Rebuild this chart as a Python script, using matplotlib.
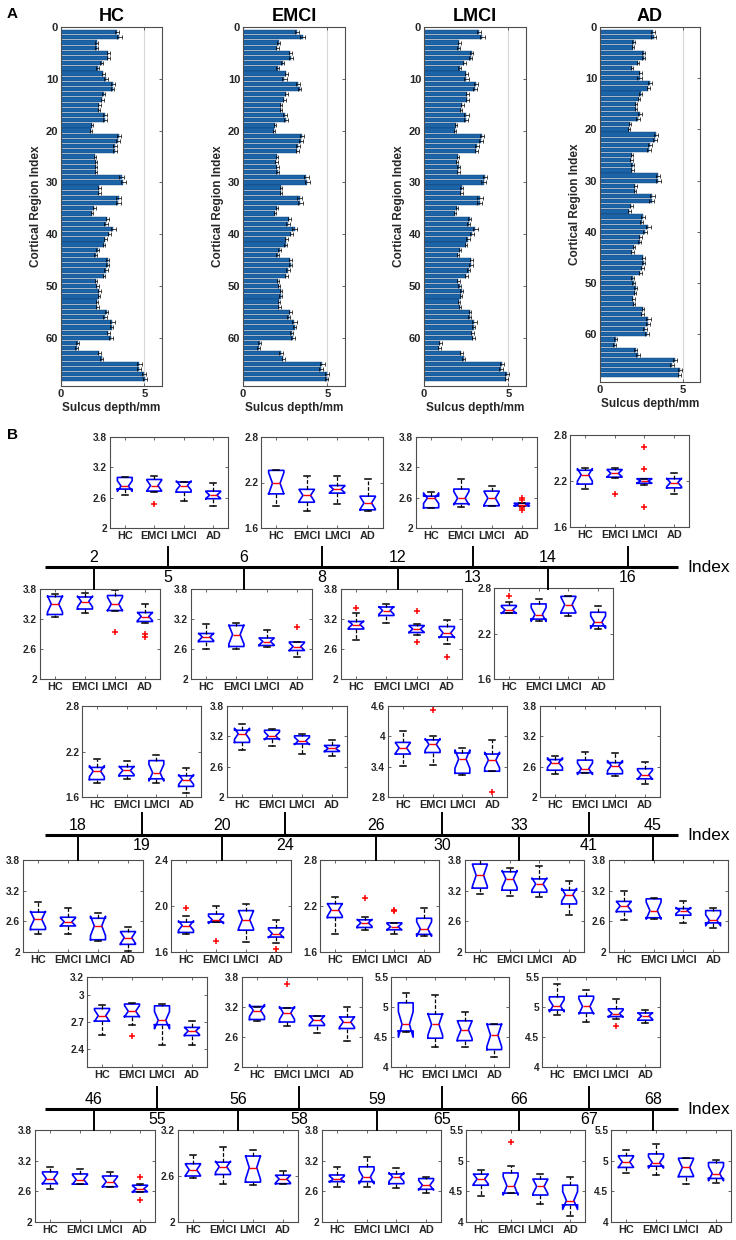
import numpy as np
import matplotlib
matplotlib.use('Agg')
import matplotlib.pyplot as plt

plt.rcParams['font.family'] = ['Liberation Sans', 'DejaVu Sans']

"""
Data
"""
groups = ['HC', 'EMCI', 'LMCI', 'AD']
region_idx = np.arange(1, 69)

# mean sulcus depth (mm) for cortical regions 1..68
depth_hc = [3.34, 3.50, 2.14, 2.14, 2.84, 2.84, 2.44, 2.20, 2.54, 2.70,
            3.10, 3.10, 2.56, 2.48, 2.30, 2.26, 2.64, 2.64, 1.88, 1.80,
            3.50, 3.44, 3.24, 3.24, 2.04, 2.10, 2.10, 2.10, 3.64, 3.74,
            2.30, 2.30, 3.46, 3.44, 2.00, 1.84, 2.78, 2.70, 3.14, 2.90,
            2.66, 2.58, 2.20, 2.08, 2.80, 2.80, 2.70, 2.58, 2.10, 2.18,
            2.30, 2.28, 2.14, 2.18, 2.74, 2.64, 3.08, 3.04, 2.84, 3.00,
            1.00, 0.94, 2.30, 2.44, 4.70, 4.70, 5.00, 5.04]
depth_emci = [3.22, 3.53, 2.12, 2.04, 2.80, 2.84, 2.36, 2.06, 2.58, 2.46,
              3.28, 3.36, 2.56, 2.45, 2.26, 2.24, 2.50, 2.57, 1.90, 1.86,
              3.52, 3.42, 3.28, 3.22, 2.02, 1.98, 2.04, 2.06, 3.76, 3.82,
              2.26, 2.26, 3.36, 3.40, 2.02, 1.90, 2.74, 2.66, 3.06, 2.86,
              2.58, 2.54, 2.18, 2.06, 2.80, 2.82, 2.68, 2.56, 2.08, 2.14,
              2.26, 2.24, 2.12, 2.16, 2.80, 2.70, 3.04, 3.06, 2.88, 2.96,
              0.98, 0.92, 2.26, 2.40, 4.70, 4.62, 5.00, 4.96]
depth_lmci = [3.26, 3.46, 2.10, 2.06, 2.82, 2.76, 2.40, 2.12, 2.52, 2.52,
              3.08, 3.02, 2.58, 2.56, 2.28, 2.20, 2.52, 2.50, 1.92, 1.86,
              3.46, 3.40, 3.16, 3.10, 2.00, 1.94, 2.06, 2.04, 3.62, 3.54,
              2.24, 2.22, 3.32, 3.30, 1.96, 1.84, 2.70, 2.64, 3.04, 2.84,
              2.62, 2.50, 2.14, 2.02, 2.80, 2.78, 2.64, 2.52, 2.04, 2.12,
              2.24, 2.20, 2.08, 2.12, 2.72, 2.70, 2.98, 2.94, 2.86, 2.92,
              0.96, 0.90, 2.22, 2.36, 4.62, 4.58, 4.90, 4.88]
depth_ad = [3.20, 3.25, 2.04, 2.00, 2.65, 2.65, 2.30, 1.93, 2.44, 2.40,
            3.00, 2.92, 2.46, 2.35, 2.16, 2.18, 2.40, 2.28, 1.83, 1.76,
            3.40, 3.30, 3.04, 2.96, 1.92, 1.90, 1.98, 1.96, 3.50, 3.53,
            2.14, 2.12, 3.16, 3.12, 1.90, 1.78, 2.60, 2.52, 2.92, 2.72,
            2.44, 2.40, 2.06, 1.96, 2.62, 2.65, 2.56, 2.44, 1.98, 2.04,
            2.16, 2.12, 2.02, 2.06, 2.60, 2.56, 2.92, 2.90, 2.72, 2.84,
            0.94, 0.88, 2.16, 2.30, 4.53, 4.35, 4.85, 4.79]
depth_sem = [0.12, 0.14, 0.08, 0.08, 0.10, 0.10, 0.08, 0.08, 0.10, 0.14,
             0.12, 0.10, 0.08, 0.08, 0.07, 0.07, 0.12, 0.12, 0.06, 0.06,
             0.12, 0.12, 0.12, 0.10, 0.07, 0.07, 0.08, 0.08, 0.14, 0.16,
             0.08, 0.08, 0.16, 0.16, 0.07, 0.07, 0.10, 0.10, 0.14, 0.10,
             0.10, 0.08, 0.08, 0.08, 0.10, 0.10, 0.10, 0.08, 0.08, 0.08,
             0.08, 0.08, 0.07, 0.07, 0.08, 0.10, 0.14, 0.10, 0.10, 0.10,
             0.08, 0.08, 0.10, 0.10, 0.14, 0.12, 0.12, 0.10]

# box stats per region: (whisker low, q1, median, q3, whisker high) for HC, EMCI, LMCI, AD
box_stats = {
    5: [(2.65, 2.77, 2.83, 3.00, 3.00), (2.71, 2.73, 2.84, 2.96, 3.03), (2.53, 2.71, 2.84, 2.91, 2.91), (2.43, 2.58, 2.65, 2.73, 2.90)],
    8: [(1.89, 2.05, 2.19, 2.36, 2.36), (1.83, 1.94, 2.03, 2.11, 2.28), (1.92, 2.06, 2.11, 2.16, 2.29), (1.83, 1.84, 1.93, 2.02, 2.24)],
    13: [(2.40, 2.40, 2.59, 2.63, 2.71), (2.41, 2.48, 2.59, 2.77, 2.97), (2.43, 2.44, 2.59, 2.73, 2.84), (2.43, 2.44, 2.46, 2.49, 2.50)],
    16: [(2.09, 2.16, 2.28, 2.34, 2.37), (2.24, 2.25, 2.30, 2.35, 2.37), (2.15, 2.17, 2.20, 2.23, 2.23), (2.03, 2.11, 2.18, 2.23, 2.30)],
    2: [(3.24, 3.29, 3.50, 3.65, 3.71), (3.33, 3.40, 3.55, 3.64, 3.72), (3.37, 3.37, 3.50, 3.67, 3.79), (3.12, 3.15, 3.25, 3.33, 3.51)],
    6: [(2.60, 2.75, 2.84, 2.91, 3.11), (2.60, 2.65, 2.89, 3.07, 3.13), (2.65, 2.67, 2.75, 2.82, 2.99), (2.44, 2.57, 2.65, 2.74, 2.74)],
    12: [(2.79, 3.00, 3.09, 3.15, 3.32), (3.13, 3.27, 3.37, 3.44, 3.51), (2.89, 2.93, 3.00, 3.07, 3.11), (2.71, 2.84, 2.92, 3.05, 3.19)],
    14: [(2.47, 2.47, 2.51, 2.57, 2.61), (2.37, 2.39, 2.45, 2.59, 2.65), (2.43, 2.47, 2.58, 2.69, 2.70), (2.26, 2.30, 2.35, 2.48, 2.56)],
    19: [(1.79, 1.83, 1.94, 1.99, 2.10), (1.84, 1.88, 1.95, 2.00, 2.07), (1.79, 1.84, 1.92, 2.08, 2.16), (1.65, 1.74, 1.83, 1.88, 1.98)],
    24: [(2.92, 3.08, 3.25, 3.32, 3.44), (3.00, 3.15, 3.21, 3.32, 3.35), (2.85, 3.05, 3.11, 3.21, 3.25), (2.81, 2.90, 2.96, 3.02, 3.13)],
    30: [(3.41, 3.65, 3.77, 3.88, 4.10), (3.44, 3.68, 3.84, 3.93, 4.01), (3.24, 3.27, 3.55, 3.67, 3.77), (3.31, 3.31, 3.53, 3.65, 3.93)],
    41: [(2.46, 2.53, 2.68, 2.74, 2.82), (2.48, 2.48, 2.56, 2.73, 2.90), (2.41, 2.46, 2.62, 2.68, 2.88), (2.26, 2.36, 2.44, 2.56, 2.69)],
    18: [(2.36, 2.44, 2.64, 2.78, 2.97), (2.36, 2.51, 2.59, 2.68, 2.86), (2.21, 2.24, 2.51, 2.66, 2.76), (2.01, 2.15, 2.28, 2.40, 2.48)],
    20: [(1.76, 1.77, 1.83, 1.86, 1.91), (1.86, 1.86, 1.88, 1.93, 2.00), (1.69, 1.79, 1.88, 1.96, 2.02), (1.68, 1.73, 1.76, 1.81, 1.88)],
    26: [(1.84, 2.05, 2.15, 2.23, 2.32), (1.89, 1.92, 1.98, 2.02, 2.06), (1.84, 1.89, 1.93, 1.98, 1.98), (1.81, 1.83, 1.90, 2.04, 2.18)],
    33: [(3.14, 3.25, 3.50, 3.72, 3.80), (3.09, 3.21, 3.43, 3.57, 3.64), (3.07, 3.17, 3.33, 3.43, 3.69), (2.73, 2.94, 3.12, 3.21, 3.39)],
    45: [(2.62, 2.79, 2.90, 2.99, 3.20), (2.65, 2.67, 2.81, 3.04, 3.05), (2.57, 2.72, 2.81, 2.85, 2.99), (2.47, 2.57, 2.62, 2.81, 2.87)],
    55: [(2.56, 2.71, 2.77, 2.85, 2.89), (2.67, 2.76, 2.82, 2.90, 2.91), (2.45, 2.67, 2.72, 2.88, 2.90), (2.44, 2.55, 2.60, 2.64, 2.71)],
    58: [(2.92, 2.95, 3.13, 3.21, 3.21), (2.82, 2.90, 3.08, 3.18, 3.18), (2.68, 2.83, 2.94, 3.02, 3.03), (2.53, 2.77, 2.90, 3.00, 3.20)],
    65: [(4.58, 4.60, 4.71, 5.07, 5.24), (4.33, 4.48, 4.71, 4.88, 5.20), (4.34, 4.44, 4.62, 4.77, 4.91), (4.17, 4.29, 4.53, 4.71, 4.72)],
    67: [(4.86, 4.95, 5.02, 5.17, 5.39), (4.75, 4.90, 5.01, 5.18, 5.28), (4.80, 4.84, 4.89, 4.97, 5.13), (4.73, 4.78, 4.85, 4.90, 4.95)],
    46: [(2.64, 2.75, 2.85, 2.98, 3.07), (2.74, 2.74, 2.83, 2.94, 3.03), (2.69, 2.69, 2.79, 2.90, 2.97), (2.59, 2.59, 2.65, 2.72, 2.75)],
    56: [(2.58, 2.60, 2.68, 2.76, 2.87), (2.49, 2.62, 2.72, 2.78, 2.98), (2.48, 2.52, 2.71, 2.86, 2.94), (2.50, 2.50, 2.56, 2.61, 2.66)],
    59: [(2.68, 2.79, 2.84, 2.92, 3.08), (2.69, 2.79, 2.88, 3.08, 3.28), (2.66, 2.75, 2.88, 2.94, 3.06), (2.56, 2.64, 2.72, 2.85, 2.88)],
    66: [(4.43, 4.60, 4.70, 4.78, 4.85), (4.47, 4.47, 4.59, 4.80, 4.92), (4.30, 4.44, 4.58, 4.70, 4.78), (4.10, 4.28, 4.35, 4.60, 4.74)],
    68: [(4.80, 4.89, 4.98, 5.08, 5.18), (4.77, 4.91, 4.97, 5.11, 5.27), (4.62, 4.74, 4.89, 5.04, 5.05), (4.63, 4.71, 4.79, 4.97, 5.01)],
}
box_fliers = {
    5: [[], [2.48], [], []],
    13: [[], [], [], [2.59, 2.55, 2.39, 2.35]],
    16: [[], [2.03], [2.64, 2.36, 1.86], []],
    2: [[], [], [2.95], [2.91, 2.85]],
    6: [[], [], [], [3.05]],
    12: [[3.42], [], [3.37, 2.75], [2.45]],
    14: [[2.69], [], [], []],
    30: [[], [4.53], [], [2.89]],
    20: [[1.98], [1.70], [], [1.63]],
    26: [[], [2.31], [2.15, 2.13], []],
    55: [[], [2.55], [], []],
    58: [[], [3.66], [], []],
    67: [[], [], [4.68], []],
    46: [[], [], [], [2.88, 2.44]],
    66: [[], [5.31], [], []],
}
box_ylim = {
    5: (2, 3.8), 8: (1.6, 2.8), 13: (2, 3.8), 16: (1.6, 2.8),
    2: (2, 3.8), 6: (2, 3.8), 12: (2, 3.8), 14: (1.6, 2.8),
    19: (1.6, 2.8), 24: (2, 3.8), 30: (2.8, 4.6), 41: (2, 3.8),
    18: (2, 3.8), 20: (1.6, 2.4), 26: (1.6, 2.8), 33: (2, 3.8), 45: (2, 3.8),
    55: (2.2, 3.2), 58: (2, 3.8), 65: (4, 5.5), 67: (4, 5.5),
    46: (2, 3.8), 56: (2, 3.2), 59: (2, 3.8), 66: (4, 5.5), 68: (4, 5.5),
}
ytick_sets = {
    (2, 3.8): ['2', '2.6', '3.2', '3.8'],
    (1.6, 2.8): ['1.6', '2.2', '2.8'],
    (2.8, 4.6): ['2.8', '3.4', '4', '4.6'],
    (4, 5.5): ['4', '4.5', '5', '5.5'],
    (1.6, 2.4): ['1.6', '2.0', '2.4'],
    (2, 3.2): ['2', '2.6', '3.2'],
    (2.2, 3.2): ['2.4', '2.7', '3', '3.2'],
}

"""
Layout (pixels: left, top, right, bottom)
"""
W, H = 736, 1240
bar_pos = {'HC': (61, 27, 162, 386), 'EMCI': (243, 27, 345, 386),
           'LMCI': (424, 27, 526, 386), 'AD': (600, 27, 700, 382)}
box_pos = {
    5: (110, 437, 228, 528), 8: (261, 437, 383, 528), 13: (416, 437, 537, 528), 16: (570, 435, 689, 527),
    2: (40, 589, 160, 679), 6: (191, 589, 312, 679), 12: (341, 589, 462, 679), 14: (494, 588, 613, 679),
    19: (82, 706, 201, 797), 24: (227, 706, 347, 797), 30: (388, 706, 507, 797), 41: (540, 706, 660, 797),
    18: (23, 860, 143, 952), 20: (171, 860, 291, 952), 26: (320, 860, 439, 952), 33: (465, 860, 584, 952),
    45: (609, 860, 728, 952),
    55: (87, 977, 207, 1067), 58: (242, 977, 362, 1067), 65: (391, 977, 509, 1067), 67: (542, 977, 660, 1067),
    46: (35, 1130, 155, 1222), 56: (178, 1130, 298, 1222), 59: (322, 1130, 441, 1222), 66: (466, 1130, 585, 1222),
    68: (611, 1130, 731, 1222),
}
stem_x = {5: 168, 8: 322, 13: 473, 16: 628, 2: 94, 6: 244, 12: 398, 14: 548,
          19: 142, 24: 285, 30: 442, 41: 589, 18: 78, 20: 222, 26: 376, 33: 519, 45: 653,
          55: 157, 58: 299, 65: 442, 67: 589, 46: 94, 56: 238, 59: 377, 66: 519, 68: 653}
# (line y, upper panels, upper stem top, lower panels, lower stem bottom)
timelines = [
    (567, [5, 8, 13, 16], 547, [2, 6, 12, 14], 589),
    (835, [19, 24, 30, 41], 813, [18, 20, 26, 33, 45], 860),
    (1109, [55, 58, 65, 67], 1087, [46, 56, 59, 66, 68], 1130),
]

AX_COLOR = '#4d4d4d'
TXT_COLOR = '#262626'


def px2fig(l, t, r, b):
    return [l / W, 1 - b / H, (r - l) / W, (b - t) / H]


def style_axes(ax, xsize, ysize):
    for s in ax.spines.values():
        s.set_color(AX_COLOR)
        s.set_linewidth(0.8)
    ax.tick_params(direction='in', top=True, right=True, length=2.5, width=0.6,
                   color=AX_COLOR, labelcolor=TXT_COLOR, pad=2)
    ax.tick_params(axis='x', labelsize=xsize)
    ax.tick_params(axis='y', labelsize=ysize)
    for lbl in ax.get_xticklabels() + ax.get_yticklabels():
        lbl.set_fontweight('bold')


def plot_bars(fig):
    depths = [depth_hc, depth_emci, depth_lmci, depth_ad]
    for g, vals in zip(groups, depths):
        ax = fig.add_axes(px2fig(*bar_pos[g]))
        ax.barh(region_idx, vals, height=0.82, color='#1c64a8', edgecolor='#0e3d6e', linewidth=0.3,
                xerr=depth_sem, error_kw=dict(ecolor='black', elinewidth=0.5, capsize=1.2, capthick=0.5))
        ax.set_ylim(69.3, 0)
        ax.set_xlim(0, 6.05)
        ax.set_xticks([0, 5])
        ax.set_yticks(range(0, 61, 10))
        ax.xaxis.grid(True, color='#d6d6d6', linewidth=0.8)
        ax.set_axisbelow(True)
        style_axes(ax, 8, 8)
        ax.set_title(g, fontsize=13, fontweight='bold', pad=4, color='black')
        ax.set_xlabel('Sulcus depth/mm', fontsize=8.5, fontweight='bold', labelpad=2, color=TXT_COLOR)
        ax.set_ylabel('Cortical Region Index', fontsize=8.5, fontweight='bold', labelpad=3, color=TXT_COLOR)


def plot_boxes(fig):
    for idx, rows in box_stats.items():
        ax = fig.add_axes(px2fig(*box_pos[idx]))
        fl = box_fliers.get(idx, [[], [], [], []])
        stats = []
        for k, (lo, q1, med, q3, hi) in enumerate(rows):
            half = 1.57 * (q3 - q1) / np.sqrt(12)
            stats.append(dict(label=groups[k], whislo=lo, q1=q1, med=med, q3=q3, whishi=hi,
                              cilo=med - half, cihi=med + half, fliers=fl[k]))
        ax.bxp(stats, positions=[1, 2, 3, 4], widths=0.5, capwidths=0.2, shownotches=True,
               boxprops=dict(color='#0000ff', linewidth=1.2),
               medianprops=dict(color='red', linewidth=1.0),
               whiskerprops=dict(color='black', linewidth=0.9, linestyle=(0, (3, 1.5))),
               capprops=dict(color='black', linewidth=1.1),
               flierprops=dict(marker='+', markeredgecolor='red', markersize=5, markeredgewidth=1.1))
        ax.set_xlim(0.5, 4.5)
        ax.set_ylim(*box_ylim[idx])
        labels = ytick_sets[box_ylim[idx]]
        ax.set_yticks([float(s) for s in labels])
        ax.set_yticklabels(labels)
        style_axes(ax, 7.8, 7.3)


def plot_timelines(fig):
    ov = fig.add_axes([0, 0, 1, 1])
    ov.set_xlim(0, W)
    ov.set_ylim(H, 0)
    ov.axis('off')
    for y, upper, top, lower, bottom in timelines:
        ov.plot([45, 678], [y, y], color='black', linewidth=2.2, solid_capstyle='butt')
        ov.text(687, y, 'Index', fontsize=12.5, va='center', ha='left')
        for idx in upper:
            ov.plot([stem_x[idx]] * 2, [top, y], color='black', linewidth=1.4)
            ov.text(stem_x[idx], y + 10, str(idx), fontsize=11.5, ha='center', va='center')
        for idx in lower:
            ov.plot([stem_x[idx]] * 2, [y, bottom], color='black', linewidth=1.4)
            ov.text(stem_x[idx], y - 9, str(idx), fontsize=11.5, ha='center', va='center')
    ov.text(12, 14, 'A', fontsize=11, fontweight='bold', ha='center', va='center')
    ov.text(12, 435, 'B', fontsize=11, fontweight='bold', ha='center', va='center')


def main():
    fig = plt.figure(figsize=(W / 100, H / 100), dpi=100)
    plot_bars(fig)
    plot_boxes(fig)
    plot_timelines(fig)
    fig.savefig('out.png', dpi=100)


if __name__ == '__main__':
    main()
